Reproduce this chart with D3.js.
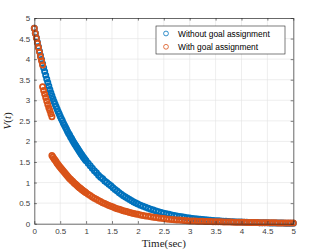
<!DOCTYPE html>
<html>
<head>
<meta charset="utf-8">
<script src="https://cdn.jsdelivr.net/npm/d3@7"></script>
<style>
  body { margin: 0; background: #fff; }
  .tick text { font-family: "Liberation Sans", Arial, sans-serif; font-size: 8px; fill: #404040; }
  .legend text { font-family: "Liberation Sans", Arial, sans-serif; font-size: 8.4px; fill: #000; }
</style>
</head>
<body>
<script>
// set the dimensions of the figure
const SIZE = { width: 316, height: 251, left: 34.3, right: 22.7, top: 18, bottom: 27.3 };
SIZE.innerWidth = SIZE.width - SIZE.left - SIZE.right;
SIZE.innerHeight = SIZE.height - SIZE.top - SIZE.bottom;

// sample times (sec)
const time = [
  0, 0.02, 0.04, 0.06, 0.08, 0.10, 0.12, 0.14, 0.16, 0.18, 0.20, 0.22, 0.24, 0.26, 0.28, 0.30, 0.32, 0.34,
  0.36, 0.38, 0.40, 0.42, 0.44, 0.46, 0.48, 0.50, 0.52, 0.54, 0.56, 0.58, 0.60, 0.62, 0.64, 0.66, 0.68,
  0.70, 0.72, 0.74, 0.76, 0.78, 0.80, 0.82, 0.84, 0.86, 0.88, 0.90, 0.92, 0.94, 0.96, 0.98, 1.00,
  1.04, 1.08, 1.12, 1.16, 1.20, 1.24, 1.28, 1.32, 1.36, 1.40, 1.44, 1.48,
  1.52, 1.56, 1.60, 1.64, 1.68, 1.72, 1.76, 1.80, 1.84, 1.88, 1.92, 1.96, 2.00,
  2.05, 2.10, 2.15, 2.20, 2.25, 2.30, 2.35, 2.40, 2.45, 2.50, 2.55, 2.60, 2.65, 2.70, 2.75, 2.80, 2.85, 2.90, 2.95, 3.00,
  3.05, 3.10, 3.15, 3.20, 3.25, 3.30, 3.35, 3.40, 3.45, 3.50, 3.55, 3.60, 3.65, 3.70, 3.75, 3.80, 3.85, 3.90, 3.95, 4.00,
  4.05, 4.10, 4.15, 4.20, 4.25, 4.30, 4.35, 4.40, 4.45, 4.50, 4.55, 4.60, 4.65, 4.70, 4.75, 4.80, 4.85, 4.90, 4.95, 5.00
];

// V(t) without goal assignment, one value per sample time
const withoutGoal = [
  4.75, 4.63, 4.52, 4.41, 4.30, 4.19, 4.09, 3.99, 3.89, 3.79, 3.70, 3.61, 3.52, 3.43, 3.35, 3.26, 3.18, 3.11,
  3.04, 2.97, 2.91, 2.85, 2.79, 2.73, 2.67, 2.61, 2.56, 2.51, 2.45, 2.40, 2.35, 2.30, 2.25, 2.20, 2.16,
  2.11, 2.07, 2.02, 1.98, 1.94, 1.90, 1.86, 1.82, 1.78, 1.74, 1.70, 1.67, 1.63, 1.60, 1.56, 1.53,
  1.47, 1.41, 1.35, 1.29, 1.24, 1.18, 1.13, 1.09, 1.04, 1.00, 0.96, 0.92,
  0.875, 0.832, 0.792, 0.753, 0.716, 0.681, 0.648, 0.616, 0.586, 0.558, 0.530, 0.505, 0.480,
  0.451, 0.424, 0.398, 0.374, 0.351, 0.330, 0.310, 0.291, 0.273, 0.257, 0.241, 0.227, 0.213, 0.200, 0.188, 0.177, 0.166, 0.156, 0.146, 0.137,
  0.129, 0.121, 0.114, 0.107, 0.101, 0.094, 0.089, 0.083, 0.078, 0.073, 0.069, 0.065, 0.061, 0.057, 0.054, 0.050, 0.047, 0.044, 0.042, 0.039,
  0.037, 0.035, 0.032, 0.030, 0.029, 0.027, 0.025, 0.024, 0.022, 0.021, 0.020, 0.018, 0.017, 0.016, 0.015, 0.014, 0.013, 0.013, 0.012, 0.011
];

// V(t) with goal assignment: three pieces, each starting at an index of `time`
const withGoalStart = [0, 8, 17];
const withGoal1 = [4.75, 4.63, 4.51, 4.39, 4.28, 4.17, 4.06, 3.96, 3.86];
const withGoal2 = [3.33, 3.24, 3.15, 3.07, 2.98, 2.90, 2.82, 2.75, 2.67, 2.60];
const withGoal3 = [
  1.66, 1.62, 1.58, 1.55, 1.51, 1.47, 1.44, 1.40, 1.37, 1.34, 1.31, 1.28, 1.25, 1.22, 1.19, 1.16, 1.13,
  1.10, 1.08, 1.05, 1.03, 1.00, 0.979, 0.956, 0.933, 0.911, 0.889, 0.868, 0.848, 0.828, 0.808, 0.789, 0.770, 0.752,
  0.717, 0.683, 0.651, 0.621, 0.592, 0.564, 0.538, 0.512, 0.488, 0.466, 0.444, 0.423,
  0.403, 0.384, 0.366, 0.349, 0.333, 0.317, 0.302, 0.288, 0.275, 0.262, 0.250, 0.238, 0.227,
  0.214, 0.201, 0.190, 0.179, 0.168, 0.158, 0.149, 0.140, 0.132, 0.125, 0.117, 0.110, 0.104, 0.098, 0.092, 0.087, 0.082, 0.077, 0.073, 0.068,
  0.066, 0.064, 0.061, 0.059, 0.057, 0.055, 0.053, 0.052, 0.050, 0.048, 0.046, 0.045, 0.043, 0.042, 0.040, 0.039, 0.038, 0.036, 0.035, 0.034,
  0.033, 0.032, 0.030, 0.029, 0.028, 0.027, 0.026, 0.025, 0.025, 0.024, 0.023, 0.022, 0.021, 0.020, 0.020, 0.019, 0.018, 0.018, 0.017, 0.016
];

const xTicks = [0, 0.5, 1, 1.5, 2, 2.5, 3, 3.5, 4, 4.5, 5];
const yTicks = [0, 0.5, 1, 1.5, 2, 2.5, 3, 3.5, 4, 4.5, 5];
const seriesNames = ['Without goal assignment', 'With goal assignment'];
const seriesColors = ['#0072BD', '#D95319'];

const svg = d3.select('body').append('svg')
    .attr('width', SIZE.width)
    .attr('height', SIZE.height);

const canvas = svg.append('g')
    .attr('transform', `translate(${SIZE.left},${SIZE.top})`);

const x = d3.scaleLinear().domain([0, 5]).range([0, SIZE.innerWidth]);
const y = d3.scaleLinear().domain([0, 5]).range([SIZE.innerHeight, 0]);

// grid
canvas.append('g').selectAll('line')
    .data(xTicks.slice(1, -1))
    .join('line')
    .attr('x1', d => x(d)).attr('x2', d => x(d))
    .attr('y1', 0).attr('y2', SIZE.innerHeight)
    .attr('stroke', '#e3e3e3').attr('stroke-width', 0.6);
canvas.append('g').selectAll('line')
    .data(yTicks.slice(1, -1))
    .join('line')
    .attr('x1', 0).attr('x2', SIZE.innerWidth)
    .attr('y1', d => y(d)).attr('y2', d => y(d))
    .attr('stroke', '#e3e3e3').attr('stroke-width', 0.6);

// markers
const blueData = time.map((t, i) => [t, withoutGoal[i]]);
const orangeData = [withGoal1, withGoal2, withGoal3]
    .flatMap((vals, k) => vals.map((v, i) => [time[withGoalStart[k] + i], v]));

const plot = canvas.append('g');
plot.selectAll('circle.blue')
    .data(blueData)
    .join('circle')
    .attr('class', 'blue')
    .attr('cx', d => x(d[0]))
    .attr('cy', d => y(d[1]))
    .attr('r', 2.6)
    .attr('fill', 'none')
    .attr('stroke', seriesColors[0])
    .attr('stroke-width', 1.8);
plot.selectAll('circle.orange')
    .data(orangeData)
    .join('circle')
    .attr('class', 'orange')
    .attr('cx', d => x(d[0]))
    .attr('cy', d => y(d[1]))
    .attr('r', 2.6)
    .attr('fill', 'none')
    .attr('stroke', seriesColors[1])
    .attr('stroke-width', 1.8);

// axes (MATLAB style: ticks inside, box on)
const axisColor = '#262626';
const styleAxis = g => {
    g.select('.domain').attr('stroke', axisColor).attr('stroke-width', 0.7);
    g.selectAll('.tick line').attr('stroke', axisColor).attr('stroke-width', 0.6);
};
canvas.append('g')
    .attr('transform', `translate(0,${SIZE.innerHeight})`)
    .call(d3.axisBottom(x).tickValues(xTicks).tickFormat(d3.format('')).tickSize(-2.6).tickSizeOuter(0).tickPadding(5))
    .call(styleAxis);
canvas.append('g')
    .call(d3.axisLeft(y).tickValues(yTicks).tickFormat(d3.format('')).tickSize(-2.6).tickSizeOuter(0).tickPadding(4))
    .call(styleAxis);
canvas.append('g')
    .call(d3.axisTop(x).tickValues(xTicks).tickFormat('').tickSize(-2.6).tickSizeOuter(0))
    .call(styleAxis);
canvas.append('g')
    .attr('transform', `translate(${SIZE.innerWidth},0)`)
    .call(d3.axisRight(y).tickValues(yTicks).tickFormat('').tickSize(-2.6).tickSizeOuter(0))
    .call(styleAxis);

// axis labels
svg.append('text')
    .attr('x', SIZE.left + SIZE.innerWidth / 2)
    .attr('y', 247)
    .attr('text-anchor', 'middle')
    .style('font-family', '"Liberation Serif", "DejaVu Serif", serif')
    .style('font-size', '11px')
    .attr('fill', '#222')
    .text('Time(sec)');

const yLabel = svg.append('text')
    .attr('transform', `translate(11,${SIZE.top + SIZE.innerHeight / 2}) rotate(-90)`)
    .attr('text-anchor', 'middle')
    .style('font-family', '"Liberation Serif", "DejaVu Serif", serif')
    .style('font-size', '11px')
    .attr('fill', '#222');
yLabel.append('tspan').style('font-style', 'italic').text('V');
yLabel.append('tspan').text('(');
yLabel.append('tspan').style('font-style', 'italic').text('t');
yLabel.append('tspan').text(')');

// legend
const legend = svg.append('g').attr('class', 'legend')
    .attr('transform', 'translate(156,26)');
legend.append('rect')
    .attr('width', 129).attr('height', 28)
    .attr('fill', '#fff')
    .attr('stroke', '#262626').attr('stroke-width', 0.6);
const entry = legend.selectAll('g.entry')
    .data(seriesNames)
    .join('g')
    .attr('class', 'entry')
    .attr('transform', (d, i) => `translate(0,${7.5 + i * 13.3})`);
entry.append('circle')
    .attr('cx', 10).attr('cy', 0).attr('r', 2.4)
    .attr('fill', 'none')
    .attr('stroke', (d, i) => seriesColors[i])
    .attr('stroke-width', 0.8);
entry.append('text')
    .attr('x', 22).attr('y', 3)
    .text(d => d);
</script>
</body>
</html>
